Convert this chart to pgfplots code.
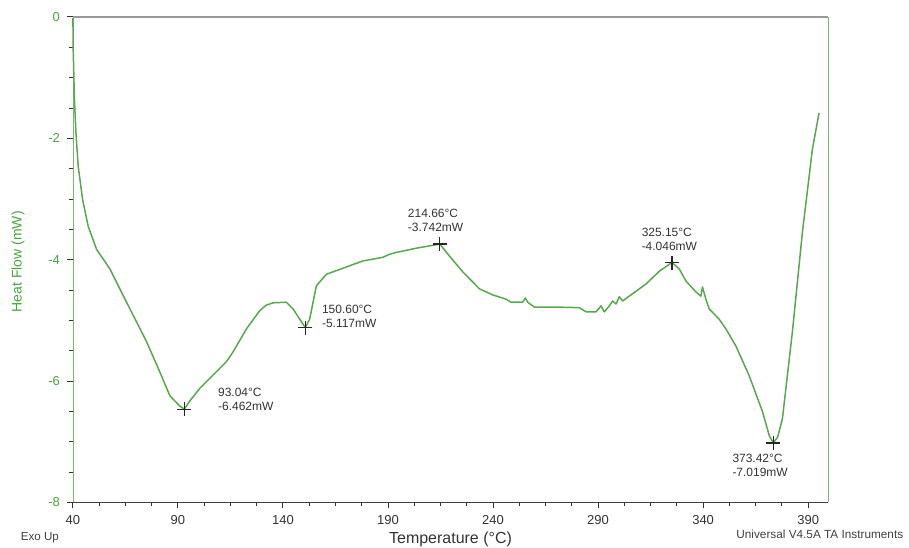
\documentclass[border=0pt]{standalone}
\usepackage{fontspec}
\setmainfont{Liberation Sans}
\usepackage{pgfplots}
\pgfplotsset{compat=1.18}
\definecolor{curve}{RGB}{88,168,78}
\definecolor{axgreen}{RGB}{120,185,110}
\definecolor{labgreen}{RGB}{70,165,60}
\begin{document}
\begin{tikzpicture}
\path[use as bounding box] (-36.5pt,-22.5pt) rectangle (418.5pt,251.5pt);
\begin{axis}[
  scale only axis, width=378pt, height=243pt,
  xmin=40, xmax=399.5, ymin=-8, ymax=0,
  xtick={40,90,...,390}, ytick={-8,-6,...,0},
  minor x tick num=3, minor y tick num=3,
  axis lines=left,
  x axis line style={draw=black!75,-},
  y axis line style={draw=axgreen,-},
  tick align=outside,
  major tick length=3pt, minor tick length=2pt,
  every tick/.style={black!80, line width=0.5pt},
  /pgf/number format/assume math mode=true,
  xticklabel style={font=\fontsize{6.5}{7}\selectfont, text=black!80},
  yticklabel style={font=\fontsize{6.5}{7}\selectfont, text=labgreen},
  xlabel={Temperature (°C)},
  ylabel={Heat Flow (mW)},
  xlabel style={at={(axis description cs:0.5,-0.0761)}, anchor=center, font=\fontsize{8}{9}\selectfont, text=black!80},
  ylabel style={at={(axis description cs:-0.0728,0.496)}, anchor=center, font=\fontsize{7}{8}\selectfont, text=labgreen},
  clip=false,
]
\addplot[curve, line width=0.75pt, line join=round] coordinates {
(40.00,-0.02) (40.14,-0.54) (40.71,-1.36) (41.43,-1.90) (42.52,-2.46)
(44.61,-3.01) (47.28,-3.45) (51.27,-3.83) (57.59,-4.15) (65.53,-4.70)
(75.05,-5.35) (81.37,-5.85) (86.12,-6.24) (88.6,-6.33) (90.8,-6.41) (93.04,-6.462)
(95.6,-6.33) (100.39,-6.12) (113.09,-5.68) (116.22,-5.52) (122.60,-5.14) (128.92,-4.84)
(132.0,-4.75) (135.24,-4.71) (141.62,-4.70) (144.75,-4.81) (150.60,-5.117) (152.70,-4.98)
(155.88,-4.43) (160.64,-4.24) (170.15,-4.12) (178.04,-4.02) (187.55,-3.96)
(190.74,-3.91) (193.92,-3.88) (203.43,-3.81) (214.66,-3.742) (219.27,-3.94)
(225.59,-4.20) (233.53,-4.48) (239.86,-4.58) (246.23,-4.65) (248.60,-4.70)
(254.12,-4.70) (255.40,-4.63) (256.50,-4.70) (259.68,-4.78) (270.00,-4.78)
(281.08,-4.79) (284.27,-4.86) (289.02,-4.86) (291.40,-4.76) (292.97,-4.86)
(295.35,-4.76) (296.92,-4.68) (298.54,-4.73) (300.10,-4.61) (301.67,-4.68)
(306.43,-4.56) (312.80,-4.40) (319.13,-4.19) (325.15,-4.046) (328.62,-4.15)
(331.81,-4.35) (336.57,-4.53) (338.94,-4.60) (339.70,-4.45) (341.32,-4.65)
(342.89,-4.81) (347.65,-4.98) (350.83,-5.14) (355.59,-5.42) (361.91,-5.91)
(368.24,-6.50) (371.5,-6.90) (373.42,-7.019) (375.5,-6.92) (377.75,-6.62) (382.50,-5.19) (387.26,-3.55)
(392.02,-2.18) (395.20,-1.58)
};
\addplot[only marks, mark=+, mark size=3.5pt, black!85, mark options={line width=0.6pt}] coordinates {
(93.04,-6.462) (150.60,-5.117) (214.66,-3.742) (325.15,-4.046) (373.42,-7.019)
};
\draw[black!40, line width=0.6pt] (rel axis cs:0,1) -- (rel axis cs:1,1);
\draw[axgreen] (rel axis cs:1,0) -- (rel axis cs:1,1);
\begin{scope}[every node/.style={anchor=west, align=left, inner sep=0pt, font=\fontsize{6}{7}\selectfont, text=black!80}]
\node at (axis cs:108.95,-6.305) {93.04°C\\-6.462mW};
\node at (axis cs:158.4,-4.93) {150.60°C\\-5.117mW};
\node at (axis cs:199.3,-3.35) {214.66°C\\-3.742mW};
\node at (axis cs:310.6,-3.66) {325.15°C\\-4.046mW};
\node at (axis cs:353.8,-7.39) {373.42°C\\-7.019mW};
\end{scope}
\node[anchor=center, font=\fontsize{5.8}{6.5}\selectfont, text=black!75] at (axis description cs:-0.0437,-0.072) {Exo Up};
\node[anchor=west, inner sep=0pt, font=\fontsize{5.9}{7}\selectfont, text=black!75] at (axis description cs:0.878,-0.0658) {Universal V4.5A TA Instruments};
\end{axis}
\end{tikzpicture}
\end{document}
